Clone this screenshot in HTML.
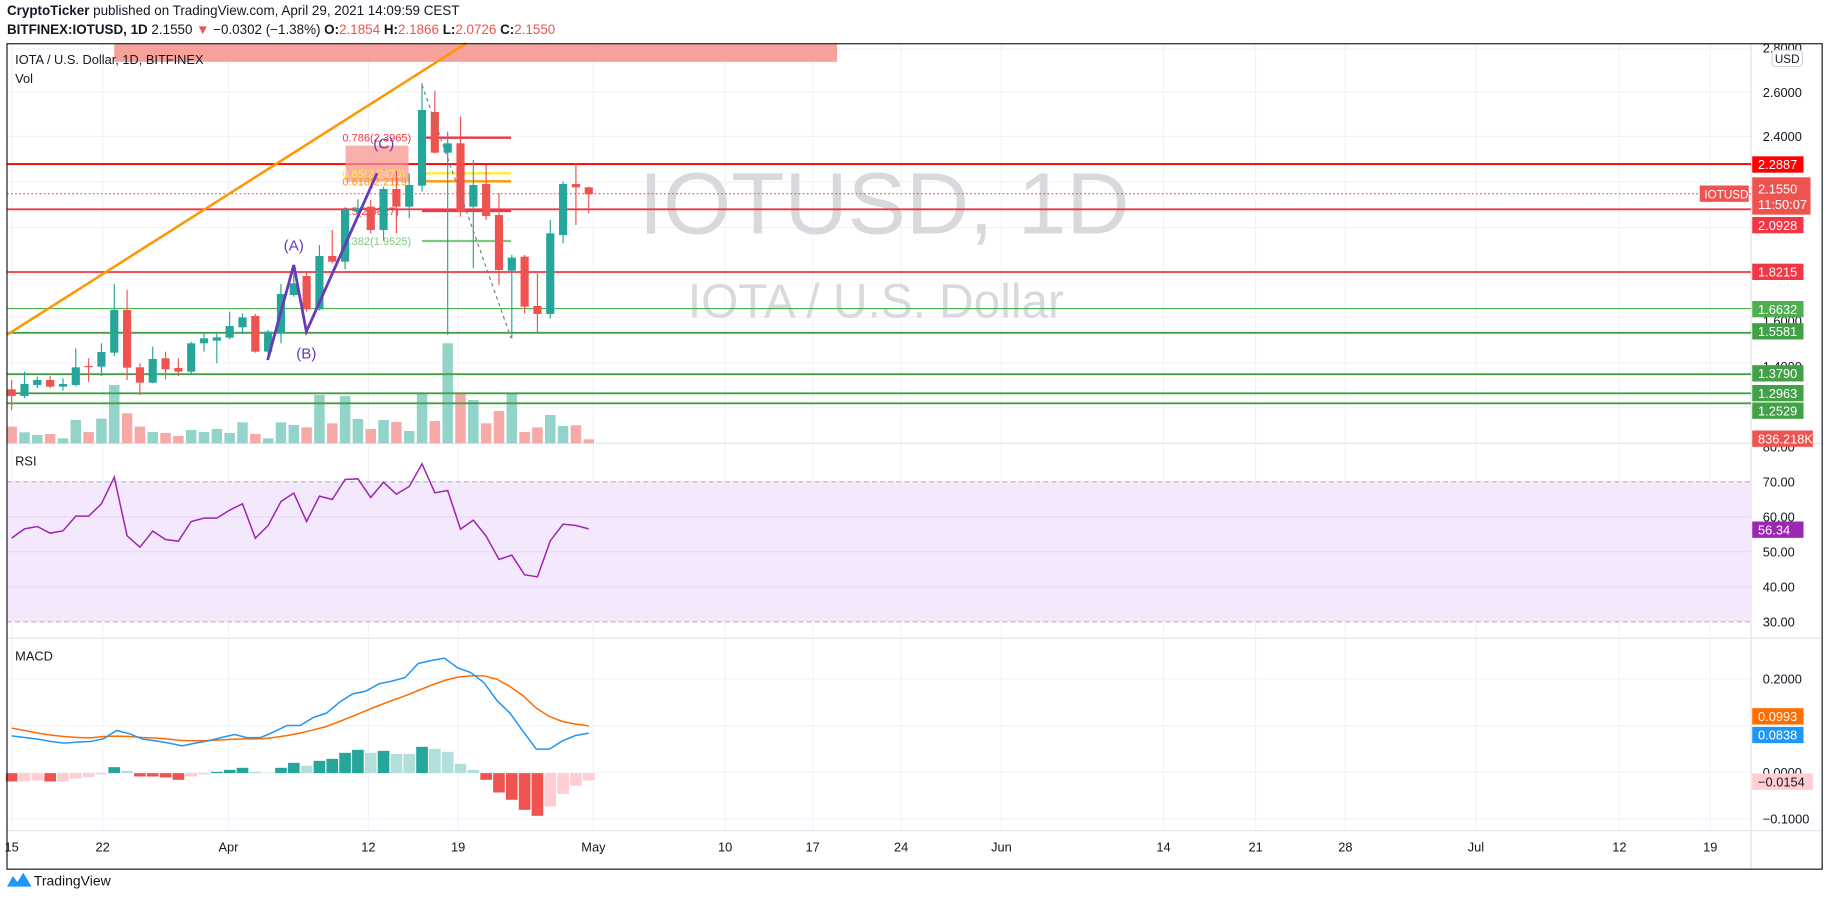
<!DOCTYPE html>
<html><head><meta charset="utf-8">
<style>
html,body{margin:0;padding:0;background:#fff;overflow:hidden;width:1828px;height:896px}
#w{position:absolute;left:0;top:0;width:1568px;height:768px;transform:scale(1.16582,1.16667);transform-origin:0 0;font-family:"Liberation Sans",sans-serif}
</style></head><body>
<div id="w"><svg id="s" width="1568" height="768" xmlns="http://www.w3.org/2000/svg" font-family="Liberation Sans, sans-serif"></svg></div>
<script>
const s=document.getElementById('s');let h='';
const G='#26a69a',R='#ef5350';
const X=i=>10+11*i;
const ZY=z=>z*0.2857;
const ZY3=z=>377+z*0.2857;
const PY=p=>79+(2.6-p)*198;
function L(x1,y1,x2,y2,c,w,extra){h+=`<line x1="${x1}" y1="${y1}" x2="${x2}" y2="${y2}" stroke="${c}" stroke-width="${w}" ${extra||''}/>`;}
function T(x,y,t,sz,c,extra){h+=`<text x="${x}" y="${y}" font-size="${sz}" fill="${c}" ${extra||''}>${t}</text>`;}
T(6,13,'<tspan font-weight="bold">CryptoTicker</tspan> published on TradingView.com, April 29, 2021 14:09:59 CEST',11.5,'#131722');
T(6,29,'<tspan font-weight="bold">BITFINEX:IOTUSD, 1D</tspan> 2.1550 <tspan fill="#ef5350">▼</tspan> −0.0302 (−1.38%) <tspan font-weight="bold">O:</tspan><tspan fill="#ef5350">2.1854</tspan> <tspan font-weight="bold">H:</tspan><tspan fill="#ef5350">2.1866</tspan> <tspan font-weight="bold">L:</tspan><tspan fill="#ef5350">2.0726</tspan> <tspan font-weight="bold">C:</tspan><tspan fill="#ef5350">2.1550</tspan>',11.5,'#131722');
const vx=[10,88,196,316,393,509,622,697,773,859,998,1077,1154,1266,1389,1467];
vx.forEach(x=>L(x,38,x,712,'#f0f3fa',1));
[42,79,117,156,195,234,272,311,349].forEach(y=>L(6,y,1502,y,'#f0f3fa',1));
[413,443,473,503,533].forEach(y=>L(6,y,1502,y,'#f0f3fa',1));
[582,622,662,702].forEach(y=>L(6,y,1502,y,'#f0f3fa',1));
T(548,200,'IOTUSD, 1D',75,'#d8d9dd');
T(590,272,'IOTA / U.S. Dollar',41,'#d8d9dd');
h+=`<rect x="98" y="38" width="620" height="15" fill="#f7968f" opacity="0.9"/>`;
L(6,380,1563,380,'#e0e3eb',1);L(6,547,1563,547,'#e0e3eb',1);L(6,712,1563,712,'#e0e3eb',1);
L(1502,38,1502,745,'#e0e3eb',1);
const vt=[1280,1297,1305,1302,1315,1260,1296,1256,1155,1240,1280,1296,1299,1308,1290,1296,1287,1299,1267,1302,1315,1267,1275,1282,1185,1270,1188,1257,1287,1260,1266,1293,1178,1263,1030,1178,1200,1270,1233,1178,1296,1282,1245,1278,1276,1318];
const cd=[['r',1168,1188,1140,1230],['g',1152,1188,1115,1195],['g',1140,1155,1130,1165],['r',1140,1160,1128,1165],['g',1152,1160,1135,1172],['g',1102,1155,1045,1160],['r',1098,1101,1075,1145],['g',1056,1100,1030,1128],['g',930,1058,852,1068],['r',930,1103,870,1140],['r',1102,1148,1090,1185],['g',1077,1148,1040,1150],['r',1075,1108,1055,1138],['r',1104,1115,1075,1128],['g',1030,1115,1025,1125],['g',1015,1030,1000,1055],['g',1012,1022,995,1090],['g',978,1013,935,1018],['g',952,982,940,1000],['r',948,1055,942,1058],['g',995,1055,990,1065],['g',882,1000,852,1030],['g',850,885,795,890],['r',828,928,818,935],['g',768,928,735,932],['r',768,785,690,790],['g',630,785,625,808],['g',625,635,598,640],['r',620,690,600,700],['g',567,690,560,722],['r',567,620,512,700],['g',555,620,520,655],['g',330,557,250,575],['r',336,458,272,460],['g',430,458,395,1005],['r',430,635,350,650],['g',555,620,480,805],['r',552,648,495,660],['r',645,810,580,855],['g',773,812,765,1015],['r',770,920,765,940],['r',918,942,820,1000],['g',700,942,660,955],['g',552,705,545,730],['r',552,562,490,675],['r',562,583,560,640]];
vt.forEach((t,i)=>{const c=cd[i][0]=='g'?'#94d3ca':'#f7a9a7';const y=ZY(t);h+=`<rect x="${X(i)-4.5}" y="${y}" width="9" height="${380-y}" fill="${c}"/>`;});
[[2.2887,'#ff0000',1.6],[2.0928,'#f23645',1.6],[1.8215,'#f23645',1.6],[1.6632,'#4caf50',1],[1.5581,'#43a047',1.6],[1.3790,'#43a047',1.6],[1.2963,'#43a047',1.6],[1.2529,'#43a047',1.6]].forEach(a=>L(6,PY(a[0]),1502,PY(a[0]),a[1],a[2]));
L(6,166,1502,166,'#ef5350',1,'stroke-dasharray="1.5,2"');
L(6,287,400,37,'#ff9800',2.2);
const zx=z=>10+(z-28)/28.5*11;
h+=`<rect x="${zx(770)}" y="${ZY(437)}" width="${zx(910)-zx(770)}" height="${ZY(545)-ZY(437)}" fill="#f7968f" opacity="0.75"/>`;
[[413,'#f23645','0.786(2.3965)'],[520,'#ffeb3b','0.65(2.2470)'],[544,'#ff9800','0.618(2.2119)'],[633,'#f23645','0.5(2.0827)'],[723,'#81c784','0.382(1.9525)']].forEach(a=>{const y=ZY(a[0]);L(zx(940),y,zx(1138),y,a[1],2);T(zx(763),y+3.5,a[2],9.5,a[1]);});
cd.forEach((c,i)=>{const col=c[0]=='g'?G:R;const x=X(i);L(x,ZY(c[3]),x,ZY(c[4]),col,1);const y1=ZY(c[1]),y2=ZY(c[2]);h+=`<rect x="${x-3.5}" y="${y1}" width="7" height="${Math.max(1,y2-y1)}" fill="${col}"/>`;});
L(zx(940),ZY(255),zx(1138),ZY(1015),'#787b86',1,'stroke-dasharray="3,3"');
h+=`<polyline points="${zx(597)},${ZY(1080)} ${zx(655)},${ZY(795)} ${zx(683)},${ZY(995)} ${zx(840)},${ZY(520)}" fill="none" stroke="#673ab7" stroke-width="2.4"/>`;
T(zx(655),ZY(752),'(A)',13,'#673ab7','text-anchor="middle"');T(zx(683),ZY(1075),'(B)',13,'#673ab7','text-anchor="middle"');T(zx(855),ZY(445),'(C)',13,'#673ab7','text-anchor="middle"');
T(13,55,'IOTA / U.S. Dollar, 1D, BITFINEX',11,'#131722');T(13,71,'Vol',11,'#131722');
h+=`<rect x="6" y="413" width="1496" height="120" fill="#f3e5fd" opacity="0.9"/>`;
L(6,413,1502,413,'#b2b5be',1,'stroke-dasharray="4,3"');L(6,533,1502,533,'#b2b5be',1,'stroke-dasharray="4,3"');
[443,473,503].forEach(y=>L(6,y,1502,y,'#e6dcf0',1));
const rs=[295,267,260,280,273,229,229,192,112,288,322,274,299,304,245,235,235,211,192,295,257,185,160,245,169,179,119,117,173,127,163,140,72,159,152,268,241,289,359,346,405,411,303,253,257,267];
h+=`<polyline points="${rs.map((z,i)=>X(i)+','+ZY3(z)).join(' ')}" fill="none" stroke="#9c27b0" stroke-width="1.3"/>`;
T(13,399,'RSI',11,'#131722');
T(13,566,'MACD',11,'#131722');
const ht=[1025,1025,1022,1025,1025,1016,1012,1004,982,993,1010,1010,1013,1020,1010,1004,996,990,984,996,999,984,969,978,963,957,939,930,939,933,942,942,921,927,936,972,990,1020,1058,1080,1110,1128,1100,1062,1038,1022];
const hc=['r','p','p','r','p','p','p','p','g','l','r','r','r','r','p','p','g','g','g','l','l','g','g','l','g','g','g','g','l','g','l','l','g','l','l','l','l','r','r','r','r','r','p','p','p','p'];
const cm={r:'#ef5350',p:'#ffcdd2',g:'#26a69a',l:'#b2dfdb'};
ht.forEach((z,i)=>{const y=ZY3(z),y0=ZY3(1000);h+=`<rect x="${X(i)-5}" y="${Math.min(y,y0)}" width="10" height="${Math.abs(y-y0)}" fill="${cm[hc[i]]}"/>`;});
const mb=[888,893,898,905,910,907,905,897,872,882,898,903,910,918,910,903,893,884,894,893,876,857,857,833,820,787,762,754,732,724,713,671,662,655,684,698,728,782,820,875,928,928,903,887,880];
const mo=[865,872,880,886,890,893,894,890,889,890,893,895,898,902,903,902,900,898,897,897,893,887,880,870,860,845,829,813,797,782,768,752,736,722,712,708,708,718,740,768,805,830,845,853,858];
const px=(a)=>a.map((z,i)=>(10+i*(495/(a.length-1)))+','+ZY3(z)).join(' ');
h+=`<polyline points="${px(mo)}" fill="none" stroke="#ff6d00" stroke-width="1.3"/>`;
h+=`<polyline points="${px(mb)}" fill="none" stroke="#2196f3" stroke-width="1.3"/>`;
[['15',10],['22',88],['Apr',196],['12',316],['19',393],['May',509],['10',622],['17',697],['24',773],['Jun',859],['14',998],['21',1077],['28',1154],['Jul',1266],['12',1389],['19',1467]].forEach(a=>T(a[1],730,a[0],11,'#131722','text-anchor="middle"'));
[['2.8000',45],['2.6000',83],['2.4000',121],['2.2000',160],['1.6000',279],['1.4000',318],['80.00',387],['70.00',417],['60.00',447],['50.00',477],['40.00',507],['30.00',537],['0.2000',586],['0.0000',666],['−0.1000',706]].forEach(a=>T(1512,a[1],a[0],11,'#131722'));
h+=`<rect x="1520" y="43" width="26" height="14" rx="3" fill="#fff" stroke="#d1d4dc"/>`;T(1533,54,'USD',10,'#131722','text-anchor="middle"');
function B(y,t,c,w,tc){h+=`<rect x="1503" y="${y-7}" width="${w||44}" height="14" fill="${c}"/>`;T(1508,y+4,t,11,tc||'#fff');}
B(141,'2.2887','#ff0000');B(193,'2.0928','#f23645');B(233,'1.8215','#f23645');
B(265,'1.6632','#4caf50');B(284,'1.5581','#43a047');B(320,'1.3790','#43a047');B(337,'1.2963','#43a047');B(352,'1.2529','#43a047');
h+=`<rect x="1503" y="152" width="50" height="32" fill="#ef5350"/>`;T(1508,166,'2.1550',11,'#fff');T(1508,179,'11:50:07',11,'#fff');
h+=`<rect x="1458" y="159" width="42" height="14" fill="#ef5350"/>`;T(1462,170,'IOTUSD',10,'#fff');
B(376,'836.218K','#ef5350',52);
B(454,'56.34','#9c27b0');
B(614,'0.0993','#ff6d00');B(630,'0.0838','#2196f3');B(670,'−0.0154','#ffcdd2',52,'#131722');
h+=`<rect x="6" y="37.5" width="1557" height="707.5" fill="none" stroke="#131722" stroke-width="1"/>`;
h+=`<path d="M6 760 l5 -9 l4 5 l5 -8 l7 12 z" fill="#2196f3"/>`;T(29,759,'TradingView',12,'#131722');
s.innerHTML=h;
</script>
</body></html>
